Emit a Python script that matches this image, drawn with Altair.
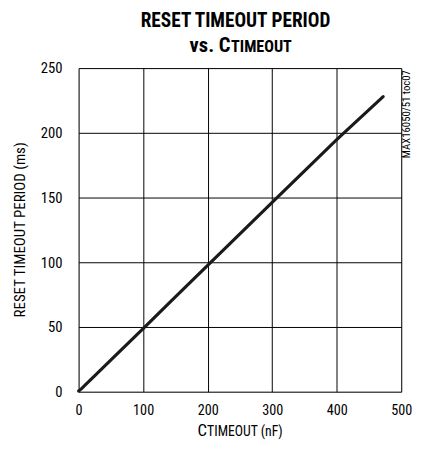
import altair as alt
import pandas as pd

# Data
cap_nf = [0, 2, 5, 10, 22, 47, 100, 150, 200, 300, 400, 472]
period_ms = [0.5, 1.3, 2.6, 5.0, 10.8, 23.0, 48.8, 73.2, 97.6, 146.3, 194.8, 228.0]
x_ticks = [0, 100, 200, 300, 400, 500]
y_ticks = [0, 50, 100, 150, 200, 250]

FONT = "Liberation Sans Narrow, Roboto Condensed, Noto Sans Condensed, Open Sans Condensed, DejaVu Sans Condensed, sans-serif"
W, H = 329, 330

df = pd.DataFrame({"c": cap_nf, "t": period_ms})

line = alt.Chart(df).mark_line(color="#1a1a1a", strokeWidth=3.2, strokeCap="round").encode(
    x=alt.X("c:Q", scale=alt.Scale(domain=[0, 500], nice=False),
            axis=alt.Axis(values=x_ticks, title=None, grid=True, ticks=False, domain=False,
                          labelPadding=12, labelFontSize=14.5, labelFont=FONT, labelColor="black",
                          labelFlush=False, gridColor="black", gridWidth=1, gridOpacity=1)),
    y=alt.Y("t:Q", scale=alt.Scale(domain=[0, 250], nice=False),
            axis=alt.Axis(values=y_ticks, title=None, grid=True, ticks=False, domain=False,
                          labelPadding=17, labelFontSize=15, labelFont=FONT, labelColor="black",
                          gridColor="black", gridWidth=1, gridOpacity=1)),
)

ann = pd.DataFrame({"k": [0]})


def txt(text, x, y, size, weight="normal", align="left", angle=0, baseline="alphabetic"):
    return alt.Chart(ann).mark_text(
        text=text, fontSize=size, fontWeight=weight, align=align, baseline=baseline,
        angle=angle, font=FONT, color="black"
    ).encode(x=alt.value(x), y=alt.value(y))


texts = [
    txt("RESET TIMEOUT PERIOD", 160, -42, 19.7, weight="bold", align="center"),
    txt("vs. C", 155, -16, 21, weight="bold", align="right"),
    txt("TIMEOUT", 155.5, -16, 16.4, weight="bold", align="left"),
    txt("C", 131, 375, 17, align="right"),
    txt("TIMEOUT (nF)", 131, 375, 14, align="left"),
    txt("RESET TIMEOUT PERIOD (ms)", -55, H / 2, 15.2, align="center", angle=270),
    txt("MAX16050/51 toc07", 335, 2, 11, align="right", angle=270, baseline="middle"),
]

chart = alt.layer(line, *texts).properties(
    width=W, height=H,
    autosize=alt.AutoSizeParams(type="none"),
    padding={"left": 72, "top": 57, "right": 12, "bottom": 47},
).configure_view(stroke="black", strokeWidth=3).configure(background="white")

chart.save("out.html", embed_options={"renderer": "svg", "actions": False})
